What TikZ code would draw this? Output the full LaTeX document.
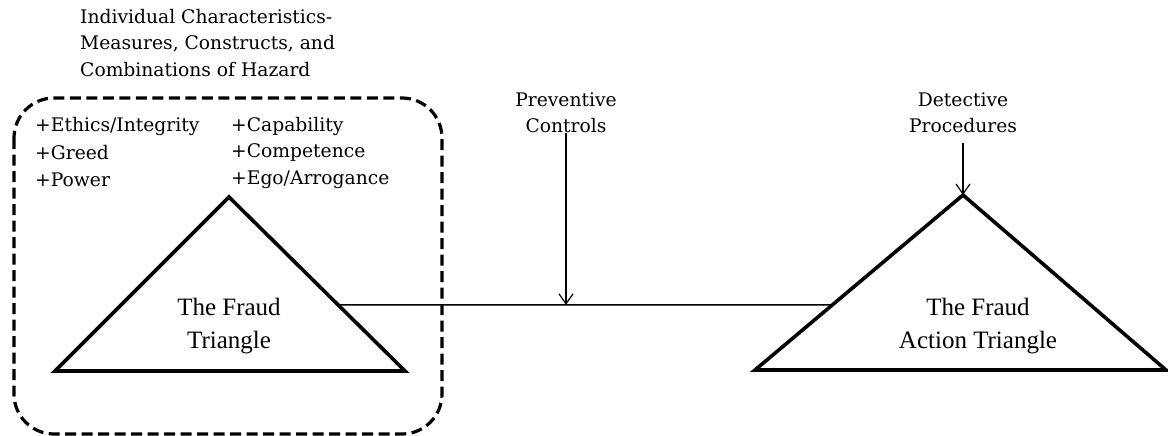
\documentclass[tikz,border=0pt]{standalone}
\usepackage{fontspec}
\setmainfont{Liberation Serif}
\newfontfamily\labelfont{DejaVu Serif}
\usetikzlibrary{arrows.meta,calc}

\tikzset{
  tri/.style={line width=3.6pt,line join=miter},
  link/.style={line width=1.4pt},
  feed/.style={line width=1.4pt,-{Straight Barb[length=10pt,width=14pt,line width=1.2pt]}},
  lbl/.style={inner sep=0pt,font=\labelfont\fontsize{18.7}{26.5}\selectfont},
  trilbl/.style={inner sep=0pt,align=center,font=\fontsize{25}{33}\selectfont}
}

\begin{document}
\begin{tikzpicture}[x=1pt,y=-1pt]
\useasboundingbox (0,0) rectangle (1168,436);

% hazard box
\draw[line width=3.2pt,dash pattern=on 11pt off 5.5pt,rounded corners=40pt] (14,98) rectangle (442,434);
\node[lbl,anchor=west,align=left] (hazard) at (80,43) {Individual Characteristics-\\Measures, Constructs, and\\Combinations of Hazard};

\foreach \t [count=\i] in {{+Ethics/Integrity},{+Greed},{+Power}}
\node[lbl,anchor=west] (left-\i) at (35,100+26.5*\i) {\t};

\foreach \t [count=\i] in {{+Capability},{+Competence},{+Ego/Arrogance}}
\node[lbl,anchor=west] (right-\i) at (231,100+26.5*\i) {\t};

% fraud triangle
\coordinate (ft-top) at (229,197);
\coordinate (ft-left) at (55,371);
\coordinate (ft-right) at (405,371);
\draw[tri] (ft-top) -- (ft-right) -- (ft-left) -- cycle;
\node[trilbl] (ft) at (229,326) {The Fraud\\Triangle};

% fraud action triangle
\coordinate (fat-top) at (963,195);
\coordinate (fat-left) at (755,370);
\coordinate (fat-right) at (1166,370);
\draw[tri] (fat-top) -- (fat-right) -- (fat-left) -- cycle;
\node[trilbl] (fat) at (978,326) {The Fraud\\Action Triangle};

% link between the triangles
\coordinate (ft-join) at ($(ft-top)!0.62!(ft-right)$);
\coordinate (fat-join) at ($(fat-top)!0.628!(fat-left)$);
\draw[link] (ft-join) -- (fat-join);

% controls
\node[lbl,align=center] (prev) at (566,113) {Preventive\\Controls};
\coordinate (prev-end) at (prev.south |- ft-join);
\draw[feed] (prev.south) -- (prev-end);

\node[lbl,align=center] (det) at (963,113) {Detective\\Procedures};
\draw[feed] ([yshift=-10pt]det.south) -- (fat-top);
\end{tikzpicture}
\end{document}
